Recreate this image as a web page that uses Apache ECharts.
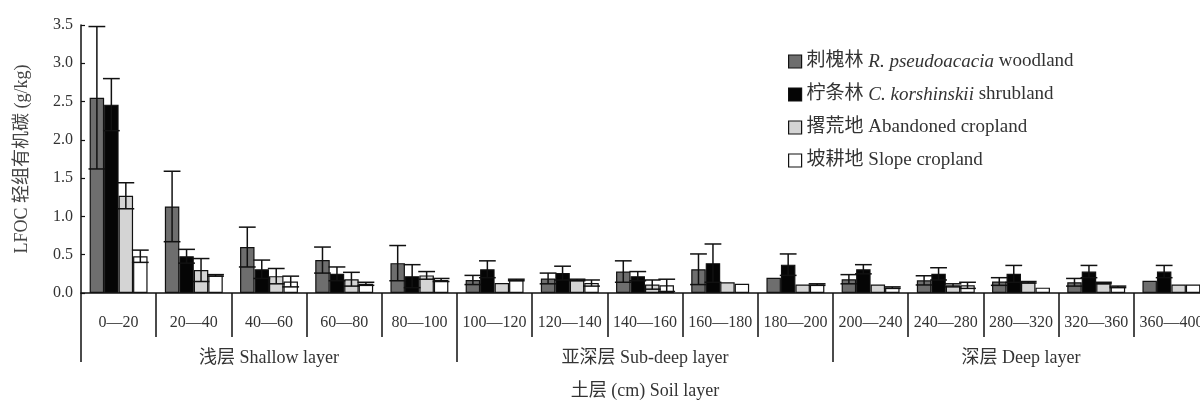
<!DOCTYPE html>
<html>
<head>
<meta charset="utf-8">
<script src="https://cdn.jsdelivr.net/npm/echarts@6/dist/echarts.min.js"></script>
<style>
  html, body { margin: 0; padding: 0; background: #fff; }
  #chart { width: 1200px; height: 402px; }
</style>
</head>
<body>
<div id="chart"></div>
<script>
  // 土层分类
  const depths = ['0—20', '20—40', '40—60', '60—80', '80—100', '100—120', '120—140', '140—160',
    '160—180', '180—200', '200—240', '240—280', '280—320', '320—360', '360—400'];
  const layers = ['浅层 Shallow layer', '亚深层 Sub-deep layer', '深层 Deep layer'];
  const yTicks = [0, 0.5, 1.0, 1.5, 2.0, 2.5, 3.0, 3.5];

  // 刺槐林
  const robiniaMean = [2.55, 1.13, 0.60, 0.43, 0.39, 0.17, 0.19, 0.28, 0.31, 0.20, 0.18, 0.165, 0.15, 0.14, 0.16];
  const robiniaSd = [0.93, 0.46, 0.26, 0.17, 0.23, 0.06, 0.07, 0.14, 0.20, 0, 0.06, 0.06, 0.05, 0.05, 0];
  // 柠条林
  const caraganaMean = [2.46, 0.48, 0.31, 0.25, 0.22, 0.31, 0.26, 0.22, 0.39, 0.37, 0.31, 0.25, 0.25, 0.28, 0.28];
  const caraganaSd = [0.34, 0.09, 0.12, 0.09, 0.15, 0.11, 0.09, 0.06, 0.25, 0.14, 0.06, 0.08, 0.11, 0.08, 0.08];
  // 撂荒地
  const abandonedMean = [1.27, 0.30, 0.22, 0.18, 0.23, 0.13, 0.17, 0.11, 0.14, 0.11, 0.11, 0.10, 0.14, 0.13, 0.11];
  const abandonedSd = [0.17, 0.15, 0.10, 0.09, 0.05, 0, 0.01, 0.06, 0, 0, 0, 0.02, 0.01, 0.01, 0];
  // 坡耕地
  const slopeMean = [0.48, 0.23, 0.15, 0.12, 0.17, 0.17, 0.13, 0.10, 0.12, 0.11, 0.07, 0.10, 0.07, 0.08, 0.11];
  const slopeSd = [0.08, 0.01, 0.07, 0.02, 0.02, 0.01, 0.04, 0.08, 0, 0.01, 0.01, 0.04, 0, 0.01, 0];

  const names = ['刺槐林 R. pseudoacacia woodland', '柠条林 C. korshinskii shrubland',
    '撂荒地 Abandoned cropland', '坡耕地 Slope cropland'];
  const colors = ['#6e6e6e', '#050505', '#d4d4d4', '#ffffff'];
  const means = [robiniaMean, caraganaMean, abandonedMean, slopeMean];
  const sds = [robiniaSd, caraganaSd, abandonedSd, slopeSd];

  const serif = "'Liberation Serif', 'Noto Sans CJK SC', serif";
  const gapRatio = 0.23;

  const barSeries = names.map((n, k) => ({
    name: n,
    type: 'bar',
    xAxisIndex: 0,
    barGap: '0%',
    barCategoryGap: (gapRatio * 100) + '%',
    itemStyle: { color: colors[k], borderColor: '#111', borderWidth: 1.2 },
    data: means[k]
  }));

  // 误差线 (均值 ± 标准差)
  const errSeries = names.map((n, k) => ({
    type: 'custom',
    xAxisIndex: 0,
    z: 5,
    silent: true,
    data: means[k].map((m, i) => [i, m, sds[k][i]]),
    renderItem: function (params, api) {
      let i = api.value(0), m = api.value(1), sd = api.value(2);
      if (!sd) return null;
      let band = api.size([1, 0])[0];
      let bw = band * (1 - gapRatio) / 4;
      let c = api.coord([i, m]);
      let x = c[0] + (k - 1.5) * bw;
      let hi = api.coord([i, m + sd])[1];
      let lo = api.coord([i, Math.max(m - sd, 0)])[1];
      let hw = bw * 0.58;
      let st = { stroke: '#111', lineWidth: 1.5 };
      return {
        type: 'group',
        children: [
          { type: 'line', shape: { x1: x, y1: lo, x2: x, y2: hi }, style: st },
          { type: 'line', shape: { x1: x - hw, y1: hi, x2: x + hw, y2: hi }, style: st },
          { type: 'line', shape: { x1: x - hw, y1: lo, x2: x + hw, y2: lo }, style: st }
        ]
      };
    }
  }));

  let myChart = echarts.init(document.getElementById('chart'));
  myChart.setOption({
    backgroundColor: '#fff',
    animation: false,
    textStyle: { fontFamily: serif, color: '#333' },
    legend: {
      data: names,
      orient: 'vertical',
      left: 783,
      top: 47,
      itemWidth: 13,
      itemHeight: 13,
      itemGap: 14,
      icon: 'rect',
      itemStyle: { borderColor: '#111', borderWidth: 1.2 },
      formatter: function (name) {
        let idx = names.indexOf(name);
        let parts = [
          ['刺槐林 ', 'R. pseudoacacia', ' woodland'],
          ['柠条林 ', 'C. korshinskii', ' shrubland'],
          ['撂荒地 Abandoned cropland', '', ''],
          ['坡耕地 Slope cropland', '', '']
        ][idx];
        let s = '{n|' + parts[0] + '}';
        if (parts[1]) s += '{i|' + parts[1] + '}{n|' + parts[2] + '}';
        return s;
      },
      textStyle: {
        fontFamily: serif,
        fontSize: 19,
        color: '#333',
        rich: {
          n: { fontFamily: serif, fontSize: 19, color: '#333' },
          i: { fontFamily: serif, fontSize: 19, color: '#333', fontStyle: 'italic' }
        }
      }
    },
    grid: { left: 81, top: 25, width: 1128, height: 268, outerBoundsMode: 'none' },
    xAxis: [{
      type: 'category',
      data: depths,
      position: 'bottom',
      name: '土层 (cm) Soil layer',
      nameLocation: 'middle',
      nameGap: 89,
      nameTextStyle: { fontFamily: serif, fontSize: 18, color: '#333' },
      axisLine: { lineStyle: { color: '#111', width: 1.5 } },
      axisTick: { show: true, length: 44, lineStyle: { color: '#111', width: 1.5 } },
      axisLabel: { interval: 0, margin: 22, fontSize: 16, color: '#333', fontFamily: serif }
    }, {
      type: 'category',
      data: layers,
      position: 'bottom',
      offset: 0,
      axisLine: { show: false },
      axisTick: { show: true, length: 69, lineStyle: { color: '#111', width: 1.5 } },
      axisLabel: { interval: 0, margin: 56, fontSize: 18, color: '#333', fontFamily: serif }
    }],
    yAxis: {
      type: 'value',
      min: yTicks[0],
      max: yTicks[yTicks.length - 1],
      interval: 0.5,
      name: 'LFOC 轻组有机碳 (g/kg)',
      nameLocation: 'middle',
      nameGap: 50,
      nameTextStyle: { fontFamily: serif, fontSize: 18, color: '#444' },
      axisLine: { show: true, lineStyle: { color: '#111', width: 1.5 } },
      axisTick: { show: true, inside: true, length: 4, lineStyle: { color: '#111', width: 1.2 } },
      splitLine: { show: false },
      axisLabel: {
        fontSize: 16,
        color: '#333',
        margin: 8,
        fontFamily: serif,
        formatter: v => v.toFixed(1)
      }
    },
    series: barSeries.concat(errSeries)
  });
</script>
</body>
</html>
